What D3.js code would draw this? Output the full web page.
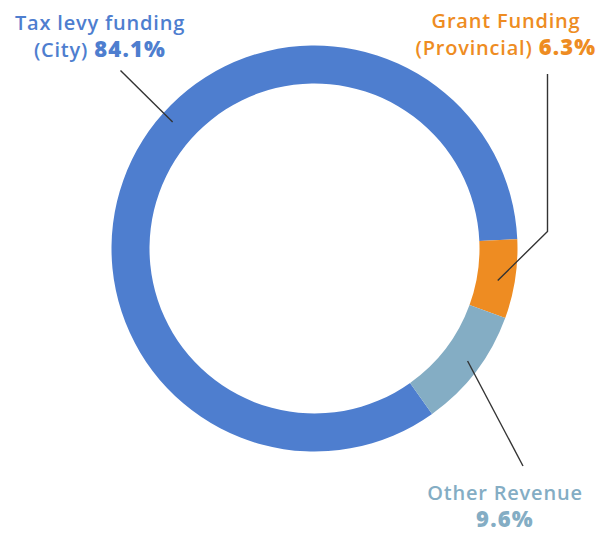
<!DOCTYPE html>
<html>
<head>
<meta charset="utf-8">
<script src="https://cdn.jsdelivr.net/npm/d3@7"></script>
<style>
  body { margin: 0; background: #fff; }
  text { font-family: "Open Sans", sans-serif; }
</style>
</head>
<body>
<svg id="chart" width="605" height="533"></svg>
<script>
var categories = ["Tax levy funding (City)", "Grant Funding (Provincial)", "Other Revenue"];
var shares = [84.1, 6.3, 9.6];
var colors = ["#4e7ecf", "#ee8c22", "#84adc4"];

var svg = d3.select("#chart"),
    cx = 314.5,
    cy = 248.5,
    outerR = 203,
    innerR = 165;

var deg = Math.PI / 180;
var start = 144.6 * deg;

var pie = d3.pie().sort(null).value(function(d) { return d; })
    .startAngle(start).endAngle(start + 2 * Math.PI);
var arcs = pie(shares);

var arc = d3.arc().innerRadius(innerR).outerRadius(outerR);

var g = svg.append("g").attr("transform", "translate(" + cx + "," + cy + ")");

g.selectAll("path")
  .data(arcs)
  .enter().append("path")
    .attr("d", arc)
    .attr("fill", function(d, i) { return colors[i]; });

// point on the ring at angle a (radians from 12 o'clock, clockwise)
function polar(a, r) {
  return [cx + r * Math.sin(a), cy - r * Math.cos(a)];
}
function mid(d) { return (d.startAngle + d.endAngle) / 2; }

var leaders = [
  [[120.5, 70.5], polar(311.7 * deg, 190)],
  [[547.5, 74], [547.5, 231.5], polar(mid(arcs[1]) + 1.2 * deg, 186)],
  [[523, 466], polar(mid(arcs[2]) - 1 * deg, 190)]
];

svg.append("g").selectAll("polyline")
  .data(leaders)
  .enter().append("polyline")
    .attr("points", function(d) { return d.map(function(p) { return p.join(","); }).join(" "); })
    .attr("fill", "none")
    .attr("stroke", "#333")
    .attr("stroke-width", 1.4);

// labels: name on first line, bold share after it
var labels = [
  { x: 100, y: 30, lines: [["Tax levy funding", ""], ["(City) ", shares[0].toFixed(1) + "%"]] },
  { x: 506, y: 28, lines: [["Grant Funding", ""], ["(Provincial) ", shares[1].toFixed(1) + "%"]] },
  { x: 505, y: 500, lines: [["Other Revenue", ""], ["", shares[2].toFixed(1) + "%"]] }
];

labels.forEach(function(l, i) {
  l.lines.forEach(function(line, j) {
    var t = svg.append("text")
      .attr("x", l.x)
      .attr("y", l.y + j * 27)
      .attr("text-anchor", "middle")
      .attr("fill", colors[i])
      .style("font-size", "20px")
      .style("letter-spacing", "0.8px");
    if (line[0]) t.append("tspan").attr("font-weight", 600).text(line[0]);
    if (line[1]) t.append("tspan").attr("font-weight", 800)
      .style("font-size", "22px").style("letter-spacing", "1.2px").text(line[1]);
  });
});
</script>
</body>
</html>
